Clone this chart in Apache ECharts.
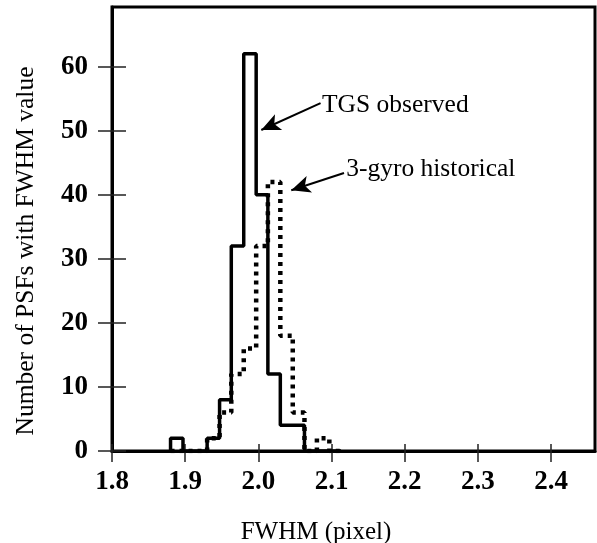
<!DOCTYPE html>
<html>
<head>
<meta charset="utf-8">
<script src="https://cdn.jsdelivr.net/npm/echarts@6/dist/echarts.min.js"></script>
<style>
  html, body { margin: 0; padding: 0; background: #fff; }
  #chartArea { width: 597px; height: 543px; }
</style>
</head>
<body>
<div id="chartArea"></div>
<script>
// histogram bin edges (FWHM, pixel)
var binEdges = [1.880, 1.897, 1.913, 1.930, 1.947, 1.963, 1.980, 1.997, 2.013, 2.030, 2.047, 2.063, 2.080, 2.097, 2.113];
// counts per bin
var tgsCounts  = [2, 0, 0, 2, 8, 32, 62, 40, 12, 4, 4, 0, 0, 0];
var gyroCounts = [0, 0, 0, 2, 6, 12, 16, 32, 42, 18, 6, 0, 2, 0];
var seriesNames = ['TGS observed', '3-gyro historical'];
var xTicks = [1.8, 1.9, 2.0, 2.1, 2.2, 2.3, 2.4];
var yTicks = [0, 10, 20, 30, 40, 50, 60];

var serif = '"Liberation Serif", "Times New Roman", serif';

function stepData(counts) {
    var pts = [[binEdges[0], 0]];
    for (var i = 0; i < counts.length; i++) {
        pts.push([binEdges[i], counts[i]]);
    }
    pts.push([binEdges[counts.length], 0]);
    return pts;
}

var xMin = 1.8, xMax = 2.46, yMin = 0, yMax = 69.3;

var tickStyle = { color: '#222', width: 1.5 };
var labelBold = { color: '#000', fontFamily: serif, fontWeight: 'bold', fontSize: 27 };

function textMark(name, coord) {
    return {
        silent: true,
        symbol: 'circle',
        symbolSize: 0,
        label: {
            show: true, position: 'right', distance: 0,
            color: '#000', fontFamily: serif, fontSize: 25.5,
            formatter: '{b}'
        },
        data: [{ name: name, coord: coord }]
    };
}

function arrowMark(from, to) {
    return {
        silent: true,
        symbol: ['none', 'arrow'],
        symbolSize: [13, 19],
        label: { show: false },
        lineStyle: { color: '#000', width: 2, type: 'solid' },
        data: [[{ coord: from }, { coord: to }]]
    };
}

var myChart = echarts.init(document.getElementById('chartArea'), null, { renderer: 'canvas' });

myChart.setOption({
    animation: false,
    backgroundColor: '#fff',
    grid: {
        left: 112, right: 2, top: 7, bottom: 92,
        outerBoundsMode: 'none',
        show: true, borderColor: '#000', borderWidth: 3
    },
    xAxis: [{
        type: 'value', min: xMin, max: xMax, interval: 0.1,
        position: 'bottom',
        axisLine: { onZero: false, lineStyle: { color: '#000', width: 3 } },
        axisTick: { inside: false, length: 11, customValues: xTicks, lineStyle: tickStyle },
        splitLine: { show: false },
        axisLabel: Object.assign({
            margin: 18,
            customValues: xTicks,
            formatter: function(v) { return v.toFixed(1); }
        }, labelBold),
        name: 'FWHM (pixel)',
        nameLocation: 'middle',
        nameGap: 69,
        nameTextStyle: { color: '#000', fontFamily: serif, fontSize: 25, padding: [0, 75, 0, 0] }
    }, {
        // upper half of the crossing x ticks
        type: 'value', min: xMin, max: xMax, interval: 0.1,
        position: 'bottom', offset: 0,
        axisLine: { show: false, onZero: false },
        axisTick: { inside: true, length: 7, customValues: xTicks, lineStyle: tickStyle },
        axisLabel: { show: false },
        splitLine: { show: false }
    }],
    yAxis: [{
        type: 'value', min: yMin, max: yMax, interval: 10,
        position: 'left',
        axisLine: { show: true, onZero: false, lineStyle: { color: '#000', width: 3 } },
        axisTick: { show: true, inside: false, length: 14, customValues: yTicks, lineStyle: tickStyle },
        splitLine: { show: false },
        axisLabel: Object.assign({
            margin: 24,
            customValues: yTicks,
            formatter: function(v) { return String(v); }
        }, labelBold),
        name: 'Number of PSFs with FWHM value',
        nameLocation: 'middle',
        nameGap: 73,
        nameTextStyle: { color: '#000', fontFamily: serif, fontSize: 25.5, padding: [0, 44, 0, 0] }
    }, {
        // right half of the crossing y ticks
        type: 'value', min: yMin, max: yMax, interval: 10,
        position: 'left', offset: 0,
        axisLine: { show: false, onZero: false },
        axisTick: { show: true, inside: true, length: 14, customValues: yTicks, lineStyle: tickStyle },
        axisLabel: { show: false },
        splitLine: { show: false }
    }],
    series: [{
        name: seriesNames[1],
        type: 'line',
        step: 'end',
        symbol: 'none',
        data: stepData(gyroCounts),
        lineStyle: { color: '#000', width: 4.5, type: [4, 5], cap: 'butt' },
        markLine: arrowMark([2.117, 43.4], [2.045, 40.7]),
        markPoint: textMark(seriesNames[1], [2.120, 44.0])
    }, {
        name: seriesNames[0],
        type: 'line',
        step: 'end',
        symbol: 'none',
        data: stepData(tgsCounts),
        lineStyle: { color: '#000', width: 3.5 },
        markLine: arrowMark([2.085, 54.3], [2.004, 50.1]),
        markPoint: textMark(seriesNames[0], [2.087, 54.0])
    }]
});
</script>
</body>
</html>
